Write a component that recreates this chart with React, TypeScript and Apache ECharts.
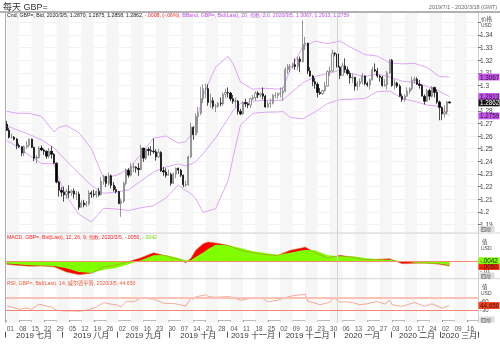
import React, { useEffect, useRef } from "react";
import * as echarts from "echarts";

// ---- daily candles [open, high, low, close] ----
const jul19 = [
  [1.2695,1.2720,1.2640,1.2645],[1.2645,1.2665,1.2580,1.2590],[1.2590,1.2620,1.2580,1.2590],[1.2590,1.2600,1.2565,1.2575],[1.2575,1.2585,1.2495,1.2525],
  [1.2525,1.2540,1.2505,1.2515],[1.2515,1.2520,1.2440,1.2465],[1.2465,1.2525,1.2440,1.2515],[1.2515,1.2560,1.2500,1.2525],[1.2525,1.2580,1.2510,1.2575],
  [1.2575,1.2580,1.2505,1.2510],[1.2510,1.2515,1.2400,1.2425],[1.2425,1.2450,1.2385,1.2430],[1.2430,1.2520,1.2420,1.2505],[1.2505,1.2525,1.2480,1.2490],
  [1.2490,1.2500,1.2450,1.2480],[1.2480,1.2485,1.2420,1.2440],[1.2440,1.2505,1.2425,1.2480],[1.2480,1.2520,1.2420,1.2455],[1.2455,1.2465,1.2380,1.2385],
  [1.2385,1.2390,1.2225,1.2235],[1.2235,1.2245,1.2120,1.2170],[1.2170,1.2195,1.2120,1.2155],
];
const aug19 = [
  [1.2155,1.2200,1.2080,1.2135],[1.2135,1.2180,1.2105,1.2160],
  [1.2160,1.2210,1.2110,1.2150],[1.2150,1.2175,1.2125,1.2165],[1.2165,1.2185,1.2105,1.2140],[1.2140,1.2165,1.2095,1.2140],[1.2140,1.2160,1.2015,1.2035],
  [1.2035,1.2090,1.2035,1.2070],[1.2070,1.2095,1.2035,1.2055],[1.2055,1.2085,1.2040,1.2065],[1.2065,1.2170,1.2050,1.2150],[1.2150,1.2165,1.2110,1.2140],
  [1.2140,1.2175,1.2115,1.2135],[1.2135,1.2170,1.2110,1.2160],[1.2160,1.2190,1.2120,1.2135],[1.2135,1.2275,1.2130,1.2240],[1.2240,1.2290,1.2215,1.2280],
  [1.2280,1.2285,1.2195,1.2225],[1.2225,1.2310,1.2205,1.2285],[1.2285,1.2295,1.2185,1.2210],[1.2210,1.2235,1.2160,1.2175],[1.2175,1.2200,1.2145,1.2160],
];
const sep19 = [
  [1.2160,1.2165,1.2060,1.2065],[1.2065,1.2105,1.1960,1.2085],[1.2085,1.2240,1.2070,1.2225],[1.2225,1.2345,1.2210,1.2330],[1.2330,1.2345,1.2270,1.2290],
  [1.2290,1.2385,1.2280,1.2355],[1.2355,1.2385,1.2315,1.2355],[1.2355,1.2360,1.2310,1.2345],[1.2345,1.2385,1.2285,1.2335],[1.2335,1.2530,1.2330,1.2505],
  [1.2505,1.2505,1.2395,1.2425],[1.2425,1.2500,1.2410,1.2495],[1.2495,1.2510,1.2445,1.2485],[1.2485,1.2520,1.2445,1.2480],[1.2480,1.2580,1.2460,1.2475],
  [1.2475,1.2495,1.2405,1.2435],[1.2435,1.2500,1.2425,1.2470],[1.2470,1.2480,1.2315,1.2325],[1.2325,1.2355,1.2285,1.2315],[1.2315,1.2345,1.2270,1.2290],
  [1.2290,1.2335,1.2285,1.2295],
];
const oct19 = [
  [1.2295,1.2310,1.2205,1.2225],[1.2225,1.2310,1.2220,1.2300],[1.2300,1.2350,1.2265,1.2345],[1.2345,1.2350,1.2300,1.2330],
  [1.2330,1.2340,1.2275,1.2290],[1.2290,1.2295,1.2195,1.2215],[1.2215,1.2245,1.2195,1.2215],[1.2215,1.2445,1.2205,1.2435],[1.2435,1.2705,1.2425,1.2670],
  [1.2670,1.2675,1.2570,1.2610],[1.2610,1.2780,1.2605,1.2755],[1.2755,1.2830,1.2625,1.2780],[1.2780,1.2990,1.2765,1.2895],[1.2895,1.3010,1.2860,1.2975],
  [1.2975,1.3015,1.2900,1.2975],[1.2975,1.3010,1.2840,1.2865],[1.2865,1.2935,1.2825,1.2880],[1.2880,1.2905,1.2815,1.2835],[1.2835,1.2855,1.2790,1.2835],
  [1.2835,1.2870,1.2825,1.2860],[1.2860,1.2905,1.2835,1.2855],[1.2855,1.2945,1.2840,1.2930],[1.2930,1.2975,1.2900,1.2945],
];
const nov19 = [
  [1.2945,1.2985,1.2905,1.2940],
  [1.2940,1.2950,1.2875,1.2895],[1.2895,1.2925,1.2855,1.2875],[1.2875,1.2905,1.2825,1.2875],[1.2875,1.2885,1.2770,1.2795],[1.2795,1.2815,1.2765,1.2775],
  [1.2775,1.2875,1.2770,1.2865],[1.2865,1.2895,1.2830,1.2855],[1.2855,1.2865,1.2820,1.2845],[1.2845,1.2905,1.2820,1.2895],[1.2895,1.2925,1.2885,1.2905],
  [1.2905,1.2955,1.2880,1.2940],[1.2940,1.2955,1.2900,1.2925],[1.2925,1.2945,1.2905,1.2935],[1.2935,1.2985,1.2890,1.2915],[1.2915,1.2925,1.2825,1.2830],
  [1.2830,1.2880,1.2825,1.2855],[1.2855,1.2895,1.2825,1.2860],[1.2860,1.2935,1.2850,1.2920],[1.2920,1.2945,1.2900,1.2920],[1.2920,1.2945,1.2895,1.2935],
];
const dec19 = [
  [1.2935,1.2985,1.2905,1.2940],[1.2940,1.2985,1.2880,1.2955],[1.2955,1.3145,1.2950,1.3125],[1.3125,1.3170,1.3090,1.3150],[1.3150,1.3170,1.3105,1.3150],
  [1.3150,1.3180,1.3135,1.3165],[1.3165,1.3215,1.3125,1.3150],[1.3150,1.3225,1.3120,1.3210],[1.3210,1.3230,1.3105,1.3190],[1.3190,1.3515,1.3180,1.3325],
  [1.3325,1.3385,1.3280,1.3335],[1.3335,1.3340,1.3090,1.3115],[1.3115,1.3145,1.3070,1.3075],[1.3075,1.3085,1.2995,1.3030],[1.3030,1.3060,1.2975,1.3010],
  [1.3010,1.3025,1.2905,1.2945],[1.2945,1.2980,1.2925,1.2935],[1.2935,1.2965,1.2925,1.2960],[1.2960,1.3030,1.2950,1.2995],[1.2995,1.3120,1.2990,1.3110],
  [1.3110,1.3150,1.3075,1.3115],[1.3115,1.3285,1.3110,1.3255],
];
const jan20 = [
  [1.3255,1.3265,1.3230,1.3250],[1.3250,1.3265,1.3130,1.3145],[1.3145,1.3155,1.3050,1.3080],
  [1.3080,1.3180,1.3080,1.3155],[1.3155,1.3215,1.3100,1.3125],[1.3125,1.3150,1.3080,1.3095],[1.3095,1.3115,1.3015,1.3060],[1.3060,1.3095,1.3020,1.3065],
  [1.3065,1.3065,1.2960,1.2995],[1.2995,1.3035,1.2960,1.3015],[1.3015,1.3055,1.2990,1.3030],[1.3030,1.3100,1.3010,1.3075],[1.3075,1.3080,1.3000,1.3015],
  [1.3015,1.3030,1.2990,1.3005],[1.3005,1.3055,1.2970,1.3045],[1.3045,1.3150,1.3040,1.3125],[1.3125,1.3175,1.3105,1.3115],[1.3115,1.3140,1.3060,1.3075],
  [1.3075,1.3085,1.3030,1.3065],[1.3065,1.3075,1.2990,1.3000],[1.3000,1.3050,1.2990,1.3005],[1.3005,1.3115,1.2970,1.3100],[1.3100,1.3210,1.3090,1.3200],
];
const feb20 = [
  [1.3200,1.3210,1.2990,1.3000],[1.3000,1.3050,1.2970,1.3020],[1.3020,1.3030,1.2980,1.2995],[1.2995,1.3010,1.2910,1.2915],[1.2915,1.2935,1.2870,1.2890],
  [1.2890,1.2930,1.2870,1.2915],[1.2915,1.2985,1.2910,1.2955],[1.2955,1.2985,1.2935,1.2975],[1.2975,1.3070,1.2960,1.3040],[1.3040,1.3070,1.3015,1.3050],
  [1.3050,1.3065,1.3005,1.3010],[1.3010,1.3045,1.2975,1.3000],[1.3000,1.3010,1.2915,1.2915],[1.2915,1.2930,1.2850,1.2875],[1.2875,1.2975,1.2870,1.2960],
  [1.2960,1.2975,1.2885,1.2915],[1.2915,1.2995,1.2905,1.2985],[1.2985,1.2990,1.2905,1.2945],[1.2945,1.2970,1.2855,1.2870],[1.2870,1.2880,1.2725,1.2825],
];
const mar20 = [
  [1.2825,1.2835,1.2725,1.2775],[1.2775,1.2845,1.2745,1.2790],[1.2790,1.2880,1.2770,1.2870],[1.2870,1.2875,1.2858,1.2862],
];

// ---- Bollinger band (20, 2.0) readings ----
const bbDates = ["2019-07-01","2019-07-05","2019-07-12","2019-07-19","2019-07-26","2019-07-30","2019-08-02","2019-08-09","2019-08-16","2019-08-23","2019-08-30","2019-09-06","2019-09-13","2019-09-20","2019-09-27","2019-10-04","2019-10-09","2019-10-11","2019-10-15","2019-10-18","2019-10-25","2019-11-01","2019-11-05","2019-11-08","2019-11-15","2019-11-22","2019-11-29","2019-12-03","2019-12-06","2019-12-13","2019-12-20","2019-12-27","2020-01-03","2020-01-10","2020-01-17","2020-01-24","2020-01-31","2020-02-07","2020-02-14","2020-02-21","2020-02-28","2020-03-05"];
const bbUpper = [1.2796,1.2781,1.2779,1.2755,1.2633,1.2668,1.2684,1.2627,1.2501,1.2264,1.2290,1.2338,1.2458,1.2582,1.2600,1.2544,1.2556,1.2608,1.2693,1.2923,1.3147,1.3230,1.3173,1.3028,1.2970,1.2977,1.2972,1.2975,1.3125,1.3304,1.3351,1.3331,1.3352,1.3295,1.3245,1.3233,1.3179,1.3171,1.3175,1.3143,1.3071,1.3067];
const bbMid = [1.2680,1.2650,1.2613,1.2569,1.2506,1.2465,1.2403,1.2304,1.2210,1.2146,1.2156,1.2174,1.2245,1.2315,1.2354,1.2379,1.2363,1.2376,1.2398,1.2459,1.2586,1.2738,1.2801,1.2858,1.2875,1.2883,1.2881,1.2885,1.2936,1.3020,1.3071,1.3094,1.3120,1.3093,1.3071,1.3092,1.3068,1.3034,1.3025,1.2994,1.2953,1.2913];
const bbLower = [1.2564,1.2519,1.2447,1.2383,1.2379,1.2262,1.2122,1.1981,1.1919,1.2028,1.2022,1.2010,1.2032,1.2048,1.2108,1.2214,1.2169,1.2144,1.2103,1.1995,1.2025,1.2246,1.2429,1.2688,1.2780,1.2789,1.2790,1.2795,1.2747,1.2736,1.2791,1.2857,1.2888,1.2891,1.2897,1.2951,1.2957,1.2897,1.2875,1.2845,1.2835,1.2759];

// ---- MACD (12, 26, 9) readings ----
const macdDates = ["2019-07-01","2019-07-05","2019-07-12","2019-07-19","2019-07-26","2019-08-02","2019-08-09","2019-08-16","2019-08-23","2019-08-30","2019-09-06","2019-09-13","2019-09-20","2019-09-27","2019-10-04","2019-10-09","2019-10-11","2019-10-15","2019-10-18","2019-10-22","2019-10-25","2019-11-01","2019-11-08","2019-11-15","2019-11-22","2019-11-29","2019-12-06","2019-12-13","2019-12-16","2019-12-20","2019-12-27","2020-01-03","2020-01-10","2020-01-17","2020-01-24","2020-01-31","2020-02-07","2020-02-14","2020-02-21","2020-02-28","2020-03-05"];
const macdVals = [-0.0032,-0.0043,-0.0052,-0.0050,-0.0058,-0.0110,-0.0137,-0.0122,-0.0060,-0.0040,-0.0005,0.0033,0.0083,0.0052,0.0017,-0.0017,0.0025,0.0107,0.0173,0.0190,0.0180,0.0157,0.0107,0.0083,0.0063,0.0057,0.0107,0.0133,0.0140,0.0083,0.0030,0.0057,0.0037,0.0013,0.0017,0.0023,-0.0027,-0.0023,-0.0020,-0.0033,-0.0050];
const signalVals = [-0.0026,-0.0033,-0.0042,-0.0047,-0.0050,-0.0072,-0.0110,-0.0120,-0.0087,-0.0070,-0.0033,0.0007,0.0057,0.0060,0.0030,0.0007,0.0008,0.0040,0.0085,0.0120,0.0163,0.0157,0.0130,0.0097,0.0080,0.0063,0.0083,0.0107,0.0110,0.0107,0.0057,0.0047,0.0047,0.0030,0.0017,0.0013,-0.0003,-0.0017,-0.0027,-0.0027,-0.0042];

// ---- RSI (14) readings ----
const rsiDates = ["2019-07-01","2019-07-03","2019-07-08","2019-07-11","2019-07-15","2019-07-18","2019-07-23","2019-07-25","2019-07-29","2019-08-01","2019-08-06","2019-08-09","2019-08-13","2019-08-15","2019-08-20","2019-08-23","2019-08-27","2019-08-30","2019-09-03","2019-09-05","2019-09-10","2019-09-13","2019-09-20","2019-09-26","2019-10-03","2019-10-09","2019-10-10","2019-10-11","2019-10-14","2019-10-15","2019-10-21","2019-10-22","2019-10-25","2019-11-01","2019-11-04","2019-11-08","2019-11-14","2019-11-21","2019-11-25","2019-11-29","2019-12-05","2019-12-10","2019-12-13","2019-12-16","2019-12-17","2019-12-20","2019-12-24","2019-12-30","2019-12-31","2020-01-01","2020-01-03","2020-01-07","2020-01-10","2020-01-15","2020-01-20","2020-01-24","2020-01-29","2020-01-30","2020-01-31","2020-02-03","2020-02-07","2020-02-11","2020-02-14","2020-02-19","2020-02-20","2020-02-25","2020-02-28","2020-03-02","2020-03-05"];
const rsiVals = [43,40,33,37,33,49,43,40,30,28,28,27,29,32,40,54,50,47,40,58,56,68,64,52,50,43,55,67,64,71,78,72,70,72,71,61,66,66,56,61,71,76,78,80,58,52,47,55,66,66,55,56,54,47,50,57,49,55,61,47,42,47,54,45,42,50,40,36,44.65];

// ---- axis texts ----
const monthNames = ["一月","二月","三月","四月","五月","六月","七月","八月","九月","十月","十一月","十二月"];
const rsiLevels = [70, 30];
const rsiLabels = [60, 30];

const FONT = "'Liberation Sans', 'Noto Sans CJK SC', sans-serif";
const N_DAYS = 190;

function buildDates(): string[] {
  const out: string[] = [];
  const d = new Date(Date.UTC(2019, 6, 1));
  while (out.length < N_DAYS) {
    const wd = d.getUTCDay();
    if (wd !== 0 && wd !== 6) out.push(d.toISOString().slice(0, 10));
    d.setUTCDate(d.getUTCDate() + 1);
  }
  return out;
}

export default function App() {
  const ref = useRef<HTMLDivElement>(null);
  useEffect(() => {
    const chart = echarts.init(ref.current!, null, { renderer: "svg" });
    const dates = buildDates();
    const ohlc = [...jul19, ...aug19, ...sep19, ...oct19, ...nov19, ...dec19, ...jan20, ...feb20, ...mar20];
    const candle = ohlc.map((r) => [r[0], r[3], r[2], r[1]]);
    const last = ohlc[ohlc.length - 1];
    const prevClose = ohlc[ohlc.length - 2][3];

    const monthFirst: Record<string, number> = {};
    const monthLast: Record<string, number> = {};
    dates.forEach((d, i) => {
      const k = d.slice(0, 7);
      if (monthFirst[k] === undefined) monthFirst[k] = i;
      monthLast[k] = i;
    });
    const monthStart = new Set<number>(Object.values(monthFirst));
    const monthMid = new Set<number>(Object.keys(monthFirst).map((k) => Math.round((monthFirst[k] + monthLast[k]) / 2)));
    const monthLabel = (v: string) => `${v.slice(0, 4)} ${monthNames[parseInt(v.slice(5, 7), 10) - 1]}`;

    const weekAreas: any[] = [];
    for (let w = 0; w * 5 + 5 < N_DAYS; w += 2) {
      weekAreas.push([{ xAxis: dates[w * 5] }, { xAxis: dates[w * 5 + 5] }]);
    }
    const yearLine = { xAxis: "2020-01-02", lineStyle: { color: "#d4d4d4", width: 1, type: "solid" }, label: { show: false } };

    const shade = (xi: number, yi: number) => ({
      type: "line", xAxisIndex: xi, yAxisIndex: yi, data: dates.map(() => null), z: 0, silent: true, showSymbol: false,
      markArea: { silent: true, itemStyle: { color: "#f6f6f6" }, data: weekAreas },
      markLine: { silent: true, symbol: "none", data: [yearLine] },
    });

    const pairs = (ds: string[], vs: number[]) => ds.map((d, i) => [d, vs[i]]);
    const fmt4 = (v: number) => v.toFixed(4);
    const fmtShort = (v: number) => (v < 0 ? "-" : "") + Math.abs(v).toFixed(4).slice(1);
    const nB = bbUpper.length - 1;
    const lastMacd = macdVals[macdVals.length - 1];
    const lastSig = signalVals[signalVals.length - 1];
    const lastRsi = rsiVals[rsiVals.length - 1];

    const bbLine = (vals: number[]) => ({
      type: "line", xAxisIndex: 0, yAxisIndex: 0, data: pairs(bbDates, vals), showSymbol: false, silent: true, z: 3,
      lineStyle: { color: "#d690f4", width: 0.8 },
    });

    const gridL = 5.5, gridR = 22;
    const hiddenX = (gi: number) => ({
      type: "category", gridIndex: gi, data: dates, boundaryGap: true,
      axisLine: { show: false }, axisTick: { show: false }, axisLabel: { show: false }, splitLine: { show: false },
    });

    const baseGraphic: any[] = [
      { type: "line", shape: { x1: 0, y1: 12, x2: 500, y2: 12 }, style: { stroke: "#9a9a9a", lineWidth: 1.5 }, silent: true, z: 10 },
      { type: "line", shape: { x1: 5.5, y1: 12, x2: 5.5, y2: 322.7 }, style: { stroke: "#aaaaaa", lineWidth: 1 }, silent: true, z: 10 },
      { type: "line", shape: { x1: 5.5, y1: 233, x2: 500, y2: 233 }, style: { stroke: "#d4d4d4", lineWidth: 1 }, silent: true, z: 10 },
      { type: "line", shape: { x1: 5.5, y1: 278.7, x2: 500, y2: 278.7 }, style: { stroke: "#d4d4d4", lineWidth: 1 }, silent: true, z: 10 },
      { type: "text", left: 3, top: 2, style: { text: "每天 GBP=", fontSize: 9, fill: "#333", fontFamily: FONT }, z: 10 },
      { type: "text", right: 3, top: 4, style: { text: "2019/7/1 - 2020/3/18 (GMT)", fontSize: 5.5, fill: "#666", fontFamily: FONT }, z: 10 },
      {
        type: "text", left: 7, top: 12.5, z: 10,
        style: {
          text: `{a|Cnd, GBP=, Bid, 2020/3/5, ${fmt4(last[0])}, ${fmt4(last[1])}, ${fmt4(last[2])}, ${fmt4(last[3])}, }{b|${fmtShort(last[3] - prevClose)}, (-.06%), }{c|BBand, GBP=, Bid(Last), 20, 指数, 2.0, 2020/3/5, ${fmt4(bbUpper[nB])}, ${fmt4(bbMid[nB])}, ${fmt4(bbLower[nB])}}`,
          fontSize: 5.2, fontFamily: FONT,
          rich: { a: { fill: "#222", fontSize: 5.2 }, b: { fill: "#ff2020", fontSize: 5.2 }, c: { fill: "#c050e8", fontSize: 5.2 } },
        },
      },
      {
        type: "text", left: 7, top: 234.5, z: 10,
        style: {
          text: `{a|MACD, GBP=, Bid(Last), 12, 26, 9, 指数, 2020/3/5, ${fmtShort(lastMacd)}, }{b|${fmtShort(lastSig)}}`,
          fontSize: 5.2, fontFamily: FONT,
          rich: { a: { fill: "#ff2020", fontSize: 5.2 }, b: { fill: "#66dd00", fontSize: 5.2 } },
        },
      },
      { type: "text", left: 7, top: 280, z: 10, style: { text: `RSI, GBP=, Bid(Last), 14, 威尔德平滑, 2020/3/5, ${lastRsi.toFixed(3)}`, fontSize: 5.2, fill: "#f05a3a", fontFamily: FONT } },
      { type: "text", left: 481, top: 16, z: 10, style: { text: "价格", fontSize: 5.5, fill: "#444", fontFamily: FONT } },
      { type: "text", left: 481, top: 22.5, z: 10, style: { text: "USD", fontSize: 5, fill: "#444", fontFamily: FONT } },
      { type: "text", left: 482, top: 239, z: 10, style: { text: "值", fontSize: 5.5, fill: "#444", fontFamily: FONT } },
      { type: "text", left: 481, top: 245.5, z: 10, style: { text: "USD", fontSize: 5, fill: "#444", fontFamily: FONT } },
      { type: "text", left: 482, top: 284, z: 10, style: { text: "值", fontSize: 5.5, fill: "#444", fontFamily: FONT } },
      { type: "text", left: 481, top: 290.5, z: 10, style: { text: "USD", fontSize: 5, fill: "#444", fontFamily: FONT } },
      { type: "rect", shape: { x: 479.5, y: 226, width: 15, height: 6 }, style: { fill: "#dcdcdc" }, z: 10 },
      { type: "text", left: 481, top: 226.5, z: 11, style: { text: "四捨", fontSize: 5, fill: "#555", fontFamily: FONT } },
      { type: "rect", shape: { x: 479.5, y: 272.5, width: 15, height: 6 }, style: { fill: "#dcdcdc" }, z: 10 },
      { type: "text", left: 481, top: 273, z: 11, style: { text: "四捨", fontSize: 5, fill: "#555", fontFamily: FONT } },
      { type: "rect", shape: { x: 479.5, y: 316.5, width: 15, height: 6 }, style: { fill: "#dcdcdc" }, z: 10 },
      { type: "text", left: 481, top: 317, z: 11, style: { text: "四捨", fontSize: 5, fill: "#555", fontFamily: FONT } },
    ];

    const option: any = {
      animation: false,
      textStyle: { fontFamily: FONT },
      grid: [
        { left: gridL, right: gridR, top: 12, height: 221 },
        { left: gridL, right: gridR, top: 233, height: 45.7 },
        { left: gridL, right: gridR, top: 278.7, height: 44 },
      ],
      xAxis: [
        hiddenX(0),
        hiddenX(1),
        {
          type: "category", gridIndex: 2, data: dates, boundaryGap: true,
          axisLine: { show: true, lineStyle: { color: "#bbbbbb", width: 1 } },
          axisTick: { show: true, interval: (i: number) => i % 5 === 0, length: 2, alignWithLabel: true, lineStyle: { color: "#999" } },
          axisLabel: { interval: (i: number) => i % 5 === 0, formatter: (v: string) => v.slice(8), fontSize: 6.5, color: "#555", margin: 3, align: "left" },
          splitLine: { show: false },
        },
        {
          type: "category", gridIndex: 2, data: dates, boundaryGap: true, position: "bottom", offset: 9,
          axisLine: { show: false },
          axisTick: { show: true, interval: (i: number) => monthStart.has(i), length: 6, lineStyle: { color: "#555" } },
          axisLabel: { interval: (i: number) => monthMid.has(i), formatter: monthLabel, fontSize: 8, color: "#333", margin: 0 },
          splitLine: { show: false },
        },
      ],
      yAxis: [
        {
          type: "value", gridIndex: 0, position: "right", min: 1.1832, max: 1.3582, splitNumber: 18,
          axisLine: { show: true, lineStyle: { color: "#d0d0d0" } },
          axisTick: { show: true, length: 3, lineStyle: { color: "#777" } },
          axisLabel: {
            fontSize: 6.5, color: "#444", margin: 2, showMinLabel: false, showMaxLabel: false,
            formatter: (v: number) => (v > 1.345 ? "" : String(parseFloat(v.toFixed(2)))),
          },
          splitLine: { show: true, lineStyle: { color: "#eaeaea", width: 0.6 } },
        },
        {
          type: "value", gridIndex: 1, position: "right", min: -0.0177, max: 0.028, splitNumber: 5,
          axisLine: { show: true, lineStyle: { color: "#d0d0d0" } },
          axisTick: { show: false },
          axisLabel: { fontSize: 6, color: "#444", margin: 2, showMinLabel: false, showMaxLabel: false,
            formatter: (v: number) => (Math.abs(v + 0.01) < 1e-9 ? "-.01" : "") },
          splitLine: { show: false },
        },
        {
          type: "value", gridIndex: 2, position: "right", min: -8.2, max: 127.2, splitNumber: 4,
          axisLine: { show: true, lineStyle: { color: "#d0d0d0" } },
          axisTick: { show: false },
          axisLabel: { fontSize: 6, color: "#444", margin: 2, showMinLabel: false, showMaxLabel: false,
            formatter: (v: number) => (rsiLabels.some((l) => Math.abs(v - l) < 1e-6) ? "-" + String(Math.round(v)) : "") },
          splitLine: { show: false },
        },
      ],
      series: [
        shade(0, 0),
        shade(1, 1),
        shade(2, 2),
        {
          type: "candlestick", xAxisIndex: 0, yAxisIndex: 0, data: candle, barWidth: 1.7, z: 4, silent: true,
          itemStyle: { color: "#ffffff", color0: "#000000", borderColor: "#6c6c6c", borderColor0: "#000000", borderWidth: 0.7 },
        },
        bbLine(bbUpper),
        bbLine(bbMid),
        bbLine(bbLower),
        {
          type: "line", xAxisIndex: 1, yAxisIndex: 1, data: pairs(macdDates, macdVals), showSymbol: false, silent: true, z: 2,
          lineStyle: { width: 0 }, areaStyle: { color: "#ff0000", opacity: 1 },
          markLine: {
            silent: true, symbol: "none",
            data: [{ yAxis: 0, lineStyle: { color: "#f08a70", width: 1, type: "solid" }, label: { show: false } }],
          },
        },
        {
          type: "line", xAxisIndex: 1, yAxisIndex: 1, data: pairs(macdDates, signalVals), showSymbol: false, silent: true, z: 3,
          lineStyle: { width: 0 }, areaStyle: { color: "#7fff00", opacity: 1 },
        },
        {
          type: "line", xAxisIndex: 1, yAxisIndex: 1, data: pairs(macdDates, macdVals), showSymbol: false, silent: true, z: 4,
          lineStyle: { color: "#c77a2a", width: 0.6 },
        },
        {
          type: "line", xAxisIndex: 2, yAxisIndex: 2, data: pairs(rsiDates, rsiVals), showSymbol: false, silent: true, z: 4,
          lineStyle: { color: "#f2836a", width: 0.7 },
          markLine: {
            silent: true, symbol: "none",
            data: [
              { yAxis: rsiLevels[0], lineStyle: { color: "#f9c2b4", width: 2, type: "solid" }, label: { show: false } },
              { yAxis: rsiLevels[1], lineStyle: { color: "#f08672", width: 1, type: "solid" }, label: { show: false } },
            ],
          },
        },
      ],
      graphic: baseGraphic,
    };
    chart.setOption(option);

    // value tags at the right edge, positioned through the axes' own scales
    const tag = (yAxisIndex: number, v: number, bg: string, fg: string, text: string, dy = 0) => {
      const y = (chart.convertToPixel({ yAxisIndex }, v) as number) + dy;
      return [
        { type: "rect", shape: { x: 478.5, y: y - 3.4, width: 21, height: 6.8 }, style: { fill: bg }, z: 20 },
        { type: "text", x: 480, y, z: 21, style: { text, fontSize: 6.3, fill: fg, fontFamily: FONT, verticalAlign: "middle", align: "left" } },
      ];
    };
    const tags = [
      ...tag(0, bbUpper[nB], "#c84ff2", "#222", fmt4(bbUpper[nB])),
      ...tag(0, bbLower[nB], "#c84ff2", "#222", fmt4(bbLower[nB])),
      ...tag(0, bbMid[nB], "#c84ff2", "#222", fmt4(bbMid[nB])),
      ...tag(0, last[3], "#111111", "#ffffff", fmt4(last[3])),
      ...tag(1, lastMacd, "#ff2200", "#222", fmtShort(lastMacd), 0.5),
      ...tag(1, lastSig, "#7fff00", "#222", fmtShort(lastSig), -4.5),
      ...tag(2, lastRsi, "#ff3a10", "#222", lastRsi.toFixed(3)),
    ];
    chart.setOption({ graphic: [...baseGraphic, ...tags] });
    return () => chart.dispose();
  }, []);
  return <div ref={ref} style={{ position: "fixed", left: 0, top: 0, width: 500, height: 347 }} />;
}
